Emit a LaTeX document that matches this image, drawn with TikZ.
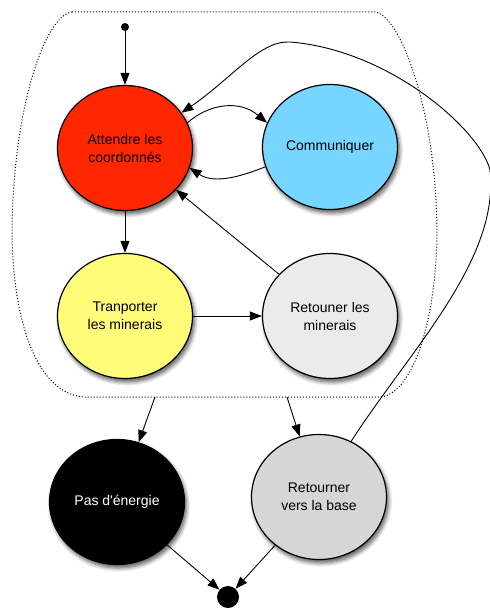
\documentclass[tikz,border=0pt]{standalone}
\usepackage{fontspec}
\setmainfont{Liberation Sans}
\usetikzlibrary{arrows.meta,shapes.geometric,shadows.blur}

\definecolor{rouge}{HTML}{FF2600}
\definecolor{bleu}{HTML}{76D6FF}
\definecolor{jaune}{HTML}{FFFC79}
\definecolor{grisclair}{HTML}{EBEBEB}
\definecolor{gris}{HTML}{D6D6D6}

\begin{document}
\begin{tikzpicture}[x=1bp,y=-1bp,
		etat/.style={ellipse, draw, line width=1.2bp, minimum width=135bp, minimum height=125bp, inner sep=0pt, align=center,
			font=\fontsize{14bp}{18bp}\selectfont,
			blur shadow={shadow xshift=2bp, shadow yshift=-3.5bp, shadow blur steps=6, shadow blur radius=4bp, shadow opacity=65}},
		fleche/.style={-{Triangle[length=12bp,width=9bp]}, line width=0.9bp}]
			\useasboundingbox (0,0) rectangle (490,613);
			\draw[dotted, line width=1bp] (72,12) -- (375,12) .. controls (400,15) and (437,110) .. (437,237)
				.. controls (435,330) and (410,395) .. (380,397) -- (85,397)
				.. controls (40,395) and (14,330) .. (12,237) .. controls (12,110) and (45,15) .. (72,12) -- cycle;
			\node[circle, fill, minimum size=8bp, inner sep=0pt] (debut) at (125,27) {};
			\node[etat, fill=rouge] (attente) at (125,148) {Attendre les\\coordonnés};
			\node[etat, fill=bleu] (communiquer) at (330,147) {Communiquer};
			\node[etat, fill=jaune] (transport) at (125,316) {Tranporter\\les minerais};
			\node[etat, fill=grisclair] (retourMin) at (330,316) {Retouner les\\minerais};
			\node[etat, fill=black, text=white] (energie) at (117,502) {Pas d\textquotesingle énergie};
			\node[etat, fill=gris] (base) at (319,497) {Retourner\\vers la base};
			\node[circle, fill, minimum size=22bp, inner sep=0pt] (fin) at (228,597) {};
			\coordinate (sortieA) at (155,397);
			\coordinate (sortieB) at (287,397);
			\draw[fleche] (debut) -- (attente);
			\draw[fleche] (attente.22) .. controls (210,103) and (240,100) .. (communiquer.159);
			\draw[fleche] (communiquer.197) .. controls (245,175) and (215,185) .. (attente.343);
			\draw[fleche] (attente) -- (transport);
			\draw[fleche] (transport) -- (retourMin);
			\draw[fleche] (retourMin) -- (attente);
			\draw[fleche] (base.60) .. controls (410,350) and (500,260) .. (490,170)
				.. controls (480,130) and (390,50) .. (290,42)
				.. controls (260,40) and (230,80) .. (attente.32);
			\draw[fleche] (sortieA) -- (energie);
			\draw[fleche] (sortieB) -- (base);
			\draw[fleche] (energie) -- (fin);
			\draw[fleche] (base) -- (fin);
		\end{tikzpicture}
\end{document}
